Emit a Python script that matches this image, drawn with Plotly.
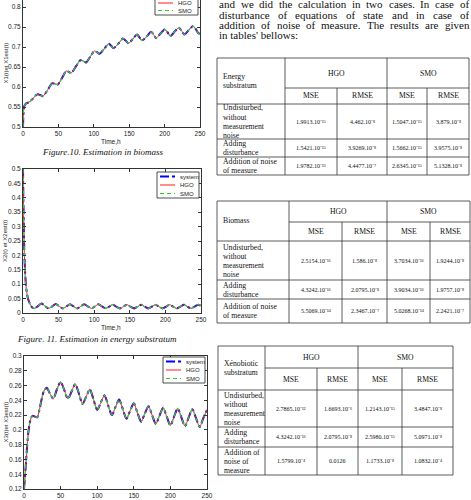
import plotly.graph_objects as go

# ---------------- data ----------------
time_x1 = [0, 0.5, 1, 2, 4, 7, 10, 14, 18, 21,
           24.5, 28,
           34, 41, 45, 49,
           55, 61, 64.5, 68,
           75, 81, 85, 89,
           95, 101, 104.5, 108,
           115, 121, 124.5, 128,
           135, 141, 145, 149,
           155, 161, 164.5, 168,
           175, 181, 184.5, 188,
           194, 200, 204, 208,
           214, 220, 224, 228,
           234, 240, 244, 248,
           250]
biomass_x1 = [0.5, 0.53, 0.545, 0.553, 0.558, 0.561, 0.564, 0.571, 0.579, 0.582,
              0.58, 0.577,
              0.59, 0.609, 0.608, 0.606,
              0.622, 0.64, 0.638, 0.635,
              0.652, 0.667, 0.665, 0.661,
              0.676, 0.69, 0.687, 0.683,
              0.696, 0.708, 0.703, 0.697,
              0.709, 0.721, 0.716, 0.709,
              0.72, 0.731, 0.724, 0.716,
              0.727, 0.738, 0.731, 0.722,
              0.733, 0.744, 0.737, 0.727,
              0.738, 0.748, 0.741, 0.731,
              0.742, 0.752, 0.745, 0.734,
              0.734]

time_x2 = [0, 0.5, 1, 1.5, 2, 3, 4, 5.5, 7, 9, 11, 13,
           16, 21, 26, 31,
           36, 41, 46, 51,
           56, 61, 66, 71,
           76, 81, 86, 91,
           96, 101, 106, 111,
           116, 121, 126, 131,
           136, 141, 146, 151,
           156, 161, 166, 171,
           176, 181, 186, 191,
           196, 201, 206, 211,
           216, 221, 226, 231,
           236, 241, 246, 250]
energy_x2 = [0.5, 0.4, 0.32, 0.25, 0.2, 0.14, 0.1, 0.068, 0.05, 0.036, 0.026, 0.019,
             0.016, 0.024, 0.033, 0.024,
             0.016, 0.023, 0.031, 0.023,
             0.016, 0.023, 0.030, 0.023,
             0.016, 0.023, 0.030, 0.023,
             0.016, 0.023, 0.030, 0.023,
             0.016, 0.022, 0.029, 0.022,
             0.016, 0.022, 0.029, 0.022,
             0.016, 0.022, 0.029, 0.022,
             0.016, 0.022, 0.029, 0.022,
             0.016, 0.022, 0.029, 0.022,
             0.016, 0.022, 0.029, 0.022,
             0.016, 0.022, 0.029, 0.025]

time_x3 = [0, 1, 2, 3, 4, 5, 6, 8, 10, 12, 15, 18, 21, 24, 27, 31, 35,
           40, 45, 50, 55,
           60, 65, 70, 75,
           80, 85, 90, 95,
           100, 105, 110, 115,
           120, 125, 130, 135,
           140, 145, 150, 155,
           160, 165, 170, 175,
           180, 185, 190, 195,
           200, 205, 210, 215,
           220, 225, 230, 235,
           240, 245, 250]
xeno_x3 = [0.12, 0.132, 0.146, 0.16, 0.175, 0.187, 0.197, 0.21, 0.217, 0.219, 0.218, 0.217,
           0.227, 0.241, 0.252, 0.257, 0.25,
           0.242, 0.255, 0.265, 0.254,
           0.242, 0.252, 0.262, 0.249,
           0.235, 0.245, 0.255, 0.241,
           0.227, 0.237, 0.247, 0.233,
           0.22, 0.231, 0.241, 0.228,
           0.215, 0.226, 0.236, 0.223,
           0.211, 0.222, 0.232, 0.220,
           0.208, 0.219, 0.230, 0.218,
           0.206, 0.218, 0.229, 0.217,
           0.205, 0.217, 0.228, 0.216,
           0.204, 0.216, 0.227]

series_names = ["system", "HGO", "SMO"]
x_title = "Time,h"
y_titles = ["X1(t)et X1est(t)", "X2(t) et X2est(t)", "X3(t)et X3est(t)"]
captions = ["Figure.10. Estimation in biomass", "Figure. 11. Estimation in energy substratum"]

paragraph_lines = ["and we did the calculation in two cases. In case of",
                   "disturbance of equations of state and in case of",
                   "addition of noise of measure. The results are given",
                   "in tables' bellows:"]

header_groups = ["HGO", "SMO"]
header_metrics = ["MSE", "RMSE", "MSE", "RMSE"]

energy_title = ["Energy", "substratum"]
energy_rows = [["Undisturbed,", "without", "measurement", "noise"],
               ["Adding", "disturbance"],
               ["Addition of noise", "of measure"]]
energy_values = [["1.9913.10⁻¹⁵", "4.462.10⁻⁸", "1.5047.10⁻¹⁵", "3.879.10⁻⁸"],
                 ["1.5421.10⁻¹⁵", "3.9269.10⁻⁸", "1.5662.10⁻¹⁵", "3.9575.10⁻⁸"],
                 ["1.9782.10⁻¹³", "4.4477.10⁻⁷", "2.6345.10⁻¹⁵", "5.1328.10⁻⁸"]]

biomass_title = ["Biomass"]
biomass_rows = [["Undisturbed,", "without", "measurement", "noise"],
                ["Adding", "disturbance"],
                ["Addition of noise", "of measure"]]
biomass_values = [["2.5154.10⁻¹⁶", "1.586.10⁻⁸", "3.7034.10⁻¹⁶", "1.9244.10⁻⁸"],
                  ["4.3242.10⁻¹⁶", "2.0795.10⁻⁸", "3.9034.10⁻¹⁶", "1.9757.10⁻⁸"],
                  ["5.5069.10⁻¹⁴", "2.3467.10⁻⁷", "5.0268.10⁻¹⁴", "2.2421.10⁻⁷"]]

xeno_title = ["Xénobiotic", "substratum"]
xeno_rows = [["Undisturbed,", "without", "measurement", "noise"],
             ["Adding", "disturbance"],
             ["Addition of", "noise of", "measure"]]
xeno_values = [["2.7865.10⁻¹²", "1.6693.10⁻⁶", "1.2143.10⁻¹⁵", "3.4847.10⁻⁸"],
               ["4.3242.10⁻¹⁶", "2.0795.10⁻⁸", "2.5980.10⁻¹⁵", "5.0971.10⁻⁸"],
               ["1.5799.10⁻⁴", "0.0126", "1.1733.10⁻⁸", "1.0832.10⁻⁴"]]

# ---------------- layout helpers ----------------
W, H = 471, 500
def X(px):
    return px / W
def Y(py):
    return 1 - py / H

SERIF = "Liberation Serif"
SANS = "Liberation Sans"
INK = "#333333"

styles = {
    "system": dict(color="#0000ff", width=2, dash="dashdot"),
    "HGO": dict(color="#ff1a1a", width=1, dash="solid"),
    "SMO": dict(color="#33cc33", width=1.2, dash="4px,3px"),
}

fig = go.Figure()
panels = [(time_x1, biomass_x1), (time_x2, energy_x2), (time_x3, xeno_x3)]
for i, (tt, vv) in enumerate(panels):
    xa = "x" if i == 0 else "x%d" % (i + 1)
    ya = "y" if i == 0 else "y%d" % (i + 1)
    for name in series_names:
        st = styles[name]
        fig.add_trace(go.Scatter(
            x=tt, y=vv, mode="lines", name=name, xaxis=xa, yaxis=ya,
            showlegend=False, hoverinfo="skip",
            line=dict(color=st["color"], width=st["width"], dash=st["dash"],
                      shape="spline", smoothing=0.7)))

axis_common = dict(showline=True, linecolor=INK, linewidth=1, ticks="inside", ticklen=3,
                   tickcolor=INK, showgrid=False, zeroline=False,
                   tickfont=dict(family=SANS, size=6.5, color="#222222"))

panel_geo = [
    dict(x0=23, x1=200, ybot=127, ytop=0, yr=[0.5, 0.5 + 0.05 * 127 / 20], dy=0.05, mirror_x=False),
    dict(x0=23, x1=201, ybot=313, ytop=169, yr=[0, 0.5], dy=0.05, mirror_x="allticks"),
    dict(x0=24, x1=207, ybot=489, ytop=356, yr=[0.12, 0.3], dy=0.02, mirror_x="allticks"),
]
lay = {}
for i, g in enumerate(panel_geo):
    sx = "" if i == 0 else str(i + 1)
    lay["xaxis" + sx] = dict(axis_common, domain=[X(g["x0"]), X(g["x1"])], range=[0, 250],
                             tickvals=[0, 50, 100, 150, 200, 250], anchor="y" + sx,
                             mirror=g["mirror_x"])
    lay["yaxis" + sx] = dict(axis_common, domain=[Y(g["ybot"]), Y(g["ytop"])], range=g["yr"],
                             dtick=g["dy"], tick0=0, anchor="x" + sx, mirror="allticks")

shapes = []
annotations = []

def text(px, py, s, size, family=SERIF, anchor="left", color="#111111", angle=0):
    annotations.append(dict(x=X(px), y=Y(py), xref="paper", yref="paper", text=s,
                            showarrow=False, xanchor=anchor, yanchor="middle",
                            textangle=angle, font=dict(family=family, size=size, color=color)))

def line(xa, ya, xb, yb, color=INK, width=0.8, dash="solid"):
    shapes.append(dict(type="line", xref="paper", yref="paper", x0=X(xa), y0=Y(ya),
                       x1=X(xb), y1=Y(yb), line=dict(color=color, width=width, dash=dash),
                       layer="above"))

# axis titles
title_pos = [(111, 141), (111, 327), (115, 502)]
for (px, py) in title_pos:
    text(px, py, x_title, 6.5, family=SANS, anchor="center", color="#222222")
for i, g in enumerate(panel_geo):
    text(5, (g["ybot"] + max(g["ytop"], -13)) / 2, y_titles[i], 6, family=SANS, anchor="center",
         color="#222222", angle=-90)

# captions
text(102, 152, captions[0], 9, anchor="center")
text(97, 339, captions[1], 9, anchor="center")
for a in annotations[-2:]:
    a["font"]["style"] = "italic"

# legends (drawn as boxes with samples)
legend_geo = [
    dict(x0=155, x1=198, y0=-10, y1=15, rows=[-4.5, 3, 10.5]),
    dict(x0=157, x1=199, y0=172, y1=198, rows=[176.5, 185, 193.5]),
    dict(x0=163, x1=205, y0=357, y1=383, rows=[361.5, 370, 378.5]),
]
for lg in legend_geo:
    shapes.append(dict(type="rect", xref="paper", yref="paper", x0=X(lg["x0"]), x1=X(lg["x1"]),
                       y0=Y(lg["y1"]), y1=Y(lg["y0"]), line=dict(color="#222222", width=0.8),
                       fillcolor="white", layer="above"))
    for name, ry in zip(series_names, lg["rows"]):
        st = styles[name]
        line(lg["x0"] + 3, ry, lg["x0"] + 18, ry, color=st["color"], width=st["width"], dash=st["dash"])
        text(lg["x0"] + 21, ry, name, 6, family=SANS, color="#222222")

# paragraph (justified using Times metrics)
TW = {' ': 250, ',': 250, '.': 250, ':': 278, "'": 180, 'I': 333, 'T': 611,
      'a': 444, 'b': 500, 'c': 444, 'd': 500, 'e': 444, 'f': 333, 'g': 500, 'h': 500,
      'i': 278, 'j': 278, 'k': 500, 'l': 278, 'm': 778, 'n': 500, 'o': 500, 'p': 500,
      'q': 500, 'r': 333, 's': 389, 't': 278, 'u': 500, 'v': 500, 'w': 722, 'x': 500,
      'y': 500, 'z': 444}
def tw(s, size):
    return sum(TW.get(c, 500) for c in s) * size / 1000.0

PX0, PX1, PSIZE = 217, 467, 11
para_y = [4, 14.5, 25, 35.5]
for k, (ln, py) in enumerate(zip(paragraph_lines, para_y)):
    words = ln.split(" ")
    if k == len(paragraph_lines) - 1:
        text(PX0, py, ln, PSIZE)
        continue
    total = sum(tw(w, PSIZE) for w in words)
    gap = (PX1 - PX0 - total) / (len(words) - 1)
    pos = PX0
    for w in words:
        text(pos, py, w, PSIZE)
        pos += tw(w, PSIZE) + gap

# tables
table_geo = [
    dict(cols=[217, 285, 337, 387, 427, 469], rows=[58, 88, 104, 139, 157, 175]),
    dict(cols=[217, 289, 342, 387, 430, 470], rows=[201, 222, 241, 280, 299, 323]),
    dict(cols=[218, 265, 317, 358, 402, 453], rows=[346, 368, 390, 427, 447, 475]),
]
table_data = [(energy_title, energy_rows, energy_values),
              (biomass_title, biomass_rows, biomass_values),
              (xeno_title, xeno_rows, xeno_values)]
LSP = 9
LAB = 7.7
for geo, (ttl, rlabels, vals) in zip(table_geo, table_data):
    c = geo["cols"]
    r = geo["rows"]
    x0, xl, xm1, xmid, xm2, x1 = c
    r0, rh, rb = r[0], r[1], r[2]
    rend = r[-1]
    for yy in (r0, rend):
        line(x0, yy, x1, yy)
    for yy in r[2:-1]:
        line(x0, yy, x1, yy)
    line(xl, rh, x1, rh)
    for xx in (x0, xl, xmid, x1):
        line(xx, r0, xx, rend)
    for xx in (xm1, xm2):
        line(xx, rh, xx, rend)
    # header
    cy = (r0 + rb) / 2
    for j, s in enumerate(ttl):
        text(x0 + 4, cy + (j - (len(ttl) - 1) / 2) * LSP, s, LAB)
    text((xl + xmid) / 2, (r0 + rh) / 2, header_groups[0], 7.7, anchor="center")
    text((xmid + x1) / 2, (r0 + rh) / 2, header_groups[1], 7.7, anchor="center")
    centers = [(xl + xm1) / 2, (xm1 + xmid) / 2, (xmid + xm2) / 2, (xm2 + x1) / 2]
    for cx, m in zip(centers, header_metrics):
        text(cx, (rh + rb) / 2, m, 7.7, anchor="center")
    # body
    for k in range(3):
        ya, yb = r[2 + k], r[3 + k]
        cy = (ya + yb) / 2
        lab = rlabels[k]
        for j, s in enumerate(lab):
            text(x0 + 4, cy + (j - (len(lab) - 1) / 2) * LSP, s, LAB)
        for cx, v in zip(centers, vals[k]):
            text(cx, cy, v, 6, anchor="center")

fig.update_layout(width=W, height=H, margin=dict(l=0, r=0, t=0, b=0, autoexpand=False),
                  paper_bgcolor="white", plot_bgcolor="white", showlegend=False,
                  shapes=shapes, annotations=annotations, **lay)
fig.write_html("out.html", config={"displayModeBar": False})
